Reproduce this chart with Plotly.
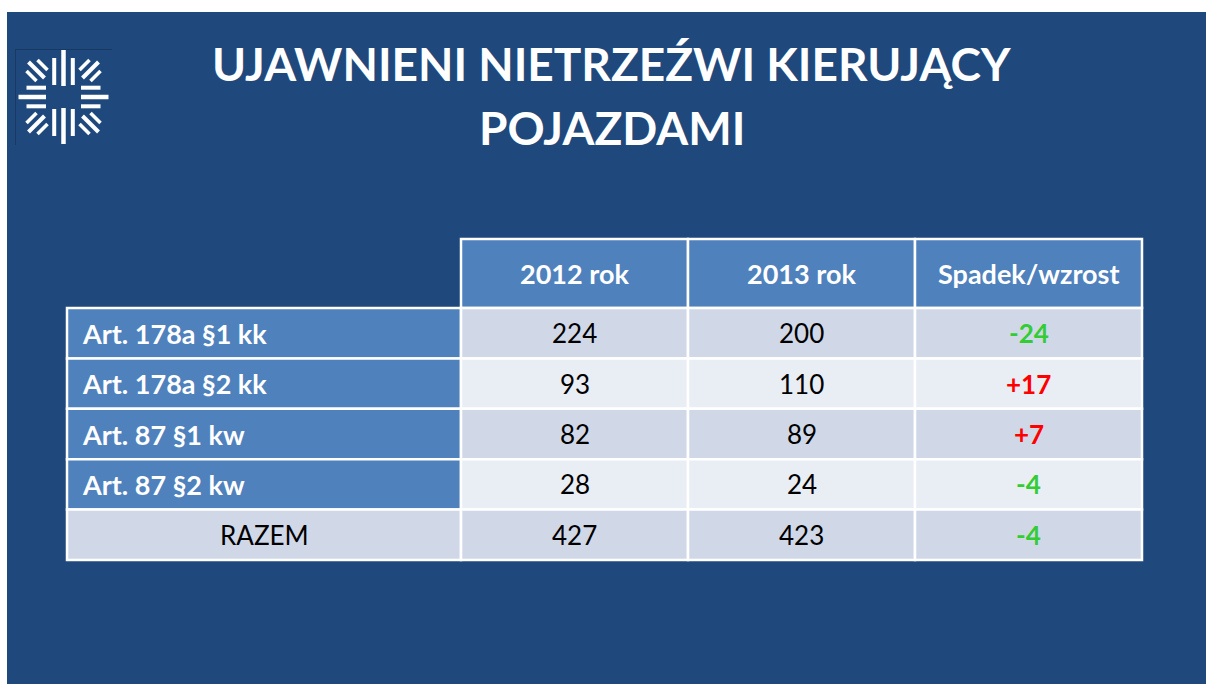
import math
import plotly.graph_objects as go

# ---------------- data ----------------
title_lines = ["UJAWNIENI NIETRZEŹWI KIERUJĄCY", "POJAZDAMI"]
col_headers = ["2012 rok", "2013 rok", "Spadek/wzrost"]
categories = ["Art. 178a §1 kk", "Art. 178a §2 kk", "Art. 87 §1 kw", "Art. 87 §2 kw", "RAZEM"]
values_2012 = [224, 93, 82, 28, 427]
values_2013 = [200, 110, 89, 24, 423]
change = [-24, 17, 7, -4, -4]

# ---------------- style / layout ----------------
W, H = 1206, 684
BG = "#1F497D"
HEAD = "#4F81BD"
ROW_ODD = "#D0D8E8"
ROW_EVEN = "#E9EDF4"
GREEN = "#33CC33"
RED = "#FF0000"
FONT = "Lato"

table_left, table_top = 67, 239
label_w, data_w = 394, 227
head_h, row_h = 69, 50.4
grid_w = 2.5

col_edges = [table_left, table_left + label_w]
for _ in col_headers:
    col_edges.append(col_edges[-1] + data_w)
row_edges = [table_top, table_top + head_h]
for _ in categories:
    row_edges.append(row_edges[-1] + row_h)

fig = go.Figure()
shapes = []
annotations = []

# slide background
shapes.append(dict(type="rect", xref="x", yref="y", x0=7, x1=W, y0=12, y1=H,
                   fillcolor=BG, line=dict(width=0), layer="below"))

# logo frame lines
shapes.append(dict(type="line", xref="x", yref="y", x0=15, x1=112, y0=49.5, y1=49.5,
                   line=dict(color="#173a63", width=1)))
shapes.append(dict(type="line", xref="x", yref="y", x0=15.5, x1=15.5, y0=49, y1=145,
                   line=dict(color="#173a63", width=1)))

# logo (police star): bars around a centre (relative offsets, rotated 4x)
cx, cy = 63.5, 97
vert_bars = [(0, -11, 0, -47, 4.5), (-9.3, -12, -9.3, -39, 4), (9.3, -12, 9.3, -39, 4)]
horiz_bars = [(-17.5, 0, -45, 0, 4.5), (-17.5, -9.3, -37, -9.3, 4), (-17.5, 9.3, -37, 9.3, 4)]
diag_bars = [(-19, -19, -35, -35, 4), (-16, -27, -26, -37, 3.5), (-27, -16, -37, -26, 3.5)]
segs = []
for sgn in (1, -1):
    for (x0, y0, x1, y1, w) in vert_bars:
        segs.append((cx + x0, cy + sgn * y0, cx + x1, cy + sgn * y1, w))
    for (x0, y0, x1, y1, w) in horiz_bars:
        segs.append((cx + sgn * x0, cy + y0, cx + sgn * x1, cy + y1, w))
for sx in (1, -1):
    for sy in (1, -1):
        for (x0, y0, x1, y1, w) in diag_bars:
            segs.append((cx + sx * x0, cy + sy * y0, cx + sx * x1, cy + sy * y1, w))
for (x0, y0, x1, y1, w) in segs:
    shapes.append(dict(type="line", xref="x", yref="y", x0=x0, y0=y0, x1=x1, y1=y1,
                       line=dict(color="white", width=w)))

# title
for i, t in enumerate(title_lines):
    annotations.append(dict(x=612, y=63 + i * 64, xref="x", yref="y", text="<b>%s</b>" % t,
                            showarrow=False, xanchor="center", yanchor="middle",
                            font=dict(family=FONT, size=46, color="white")))


def cell(c, r, fill):
    shapes.append(dict(type="rect", xref="x", yref="y",
                       x0=col_edges[c], x1=col_edges[c + 1],
                       y0=row_edges[r], y1=row_edges[r + 1],
                       fillcolor=fill, line=dict(color="white", width=grid_w)))


def text(c, r, s, color, bold=False, align="center", size=26):
    if align == "center":
        x = (col_edges[c] + col_edges[c + 1]) / 2
        xa = "center"
    else:
        x = col_edges[c] + 13
        xa = "left"
    y = (row_edges[r] + row_edges[r + 1]) / 2
    annotations.append(dict(x=x, y=y, xref="x", yref="y",
                            text="<b>%s</b>" % s if bold else s,
                            showarrow=False, xanchor=xa, yanchor="middle",
                            font=dict(family=FONT, size=size, color=color)))


# header
for j, h in enumerate(col_headers):
    cell(j + 1, 0, HEAD)
    text(j + 1, 0, h, "white", bold=True, size=27)

# body
for i, cat in enumerate(categories):
    r = i + 1
    fill = ROW_ODD if i % 2 == 0 else ROW_EVEN
    total = (i == len(categories) - 1)
    if total:
        cell(0, r, ROW_ODD)
        text(0, r, cat, "black", size=26)
    else:
        cell(0, r, HEAD)
        text(0, r, cat, "white", bold=True, align="left", size=27)
    cell(1, r, fill)
    text(1, r, str(values_2012[i]), "black")
    cell(2, r, fill)
    text(2, r, str(values_2013[i]), "black")
    cell(3, r, fill)
    v = change[i]
    text(3, r, ("%+d" % v), GREEN if v < 0 else RED, bold=True, size=26)

fig.update_layout(
    width=W, height=H,
    margin=dict(l=0, r=0, t=0, b=0),
    paper_bgcolor="white", plot_bgcolor="white",
    xaxis=dict(range=[0, W], visible=False, fixedrange=True),
    yaxis=dict(range=[H, 0], visible=False, fixedrange=True),
    shapes=shapes, annotations=annotations,
    showlegend=False,
)
fig.write_html(
    "out.html",
    config={"displayModeBar": False},
    post_script="document.body.style.margin='0px';document.body.style.overflow='hidden';",
)
